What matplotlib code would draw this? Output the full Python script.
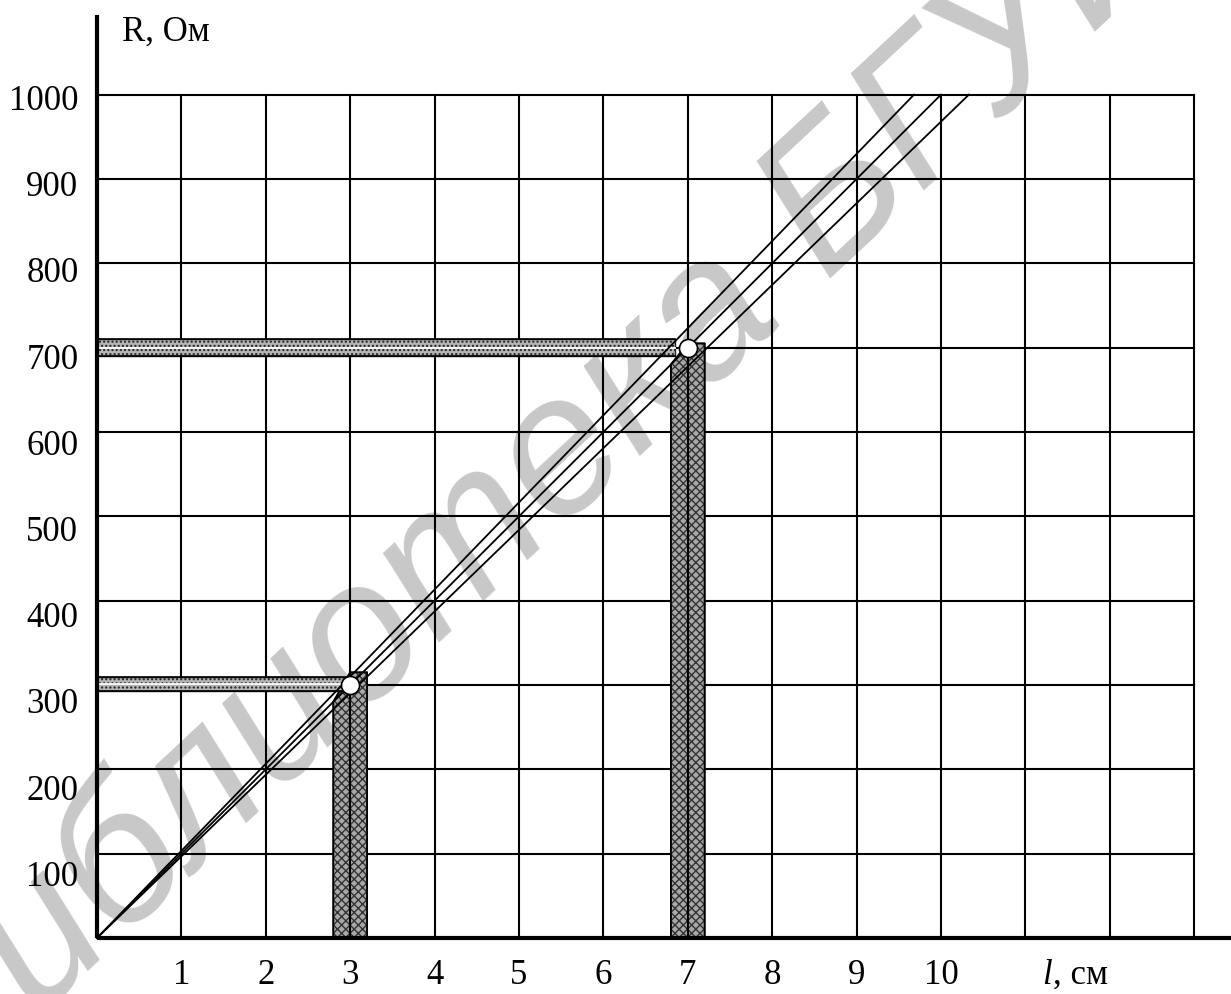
import matplotlib
matplotlib.use("Agg")
import matplotlib.pyplot as plt
import numpy as np

# ---- data ----
x_ticks = [1, 2, 3, 4, 5, 6, 7, 8, 9, 10]
y_ticks = [100, 200, 300, 400, 500, 600, 700, 800, 900, 1000]
grid_x = list(range(1, 14))
grid_y = list(range(100, 1001, 100))
line_slopes = [96.8, 100.0, 103.3]          # R = k * l, three lines
points_l = [3.0, 7.0]
points_R = [300.0, 700.0]
vband_l = [(2.8, 3.2), (6.8, 7.2)]
vband_top = [315, 705]
hband_R = [(293, 309), (690, 710)]
hband_end = [2.95, 6.85]

FS = 25
SERIF = ["Liberation Serif", "DejaVu Serif"]

fig = plt.figure(figsize=(12.31, 9.94), dpi=100)
ax = fig.add_axes([0, 0, 1, 1])
ax.set_xlim(-1.149, 13.436)
ax.set_ylim(-66.4, 1112.2)
ax.axis("off")

# watermark
ax.text(5.75, 590, "Библиотека БГУИР", rotation=43, fontsize=142, color="#c8c8c8",
        family=["Liberation Sans", "DejaVu Sans"], style="italic",
        ha="center", va="center", zorder=0, rotation_mode="anchor")

# grid
for gx in grid_x:
    ax.plot([gx, gx], [0, 1000], color="black", lw=1.5, zorder=2)
for gy in grid_y:
    ax.plot([0, 13], [gy, gy], color="black", lw=1.5, zorder=2)

# axes
ax.plot([0, 0], [0, 1095], color="black", lw=3, zorder=5, solid_capstyle="butt")
ax.plot([0, 13.44], [0, 0], color="black", lw=3, zorder=5, solid_capstyle="butt")

# vertical bands
for (a, b), top in zip(vband_l, vband_top):
    c = (a + b) / 2
    poly_x = [a, b, b, c, a]
    poly_y = [0, 0, top, top, c * line_slopes[1] - 20]
    ax.fill(poly_x, poly_y, facecolor="#a8a8a8", edgecolor="#333333", lw=1.2,
            hatch="xxxx", zorder=3)
    ax.plot([a, a, c, b, b], [0, c * line_slopes[1] - 20, top, top, 0],
            color="black", lw=1.3, zorder=3)
    ax.plot([c, c], [0, top], color="black", lw=1.5, zorder=3)

# horizontal bands
for (lo, hi), end in zip(hband_R, hband_end):
    ax.fill([0, end, end, 0], [lo, lo, hi, hi], facecolor="#b4b4b4",
            edgecolor="#222222", lw=1.0, hatch="....", zorder=3)
    ax.plot([0, end], [lo, lo], color="black", lw=1.2, zorder=3)
    ax.plot([0, end], [hi, hi], color="black", lw=1.2, zorder=3)
    ax.plot([0, end], [(lo + hi) / 2] * 2, color="white", lw=1.3, zorder=3)

# lines
for k in line_slopes:
    xe = 1000 / k
    ax.plot([0, xe], [0, 1000], color="black", lw=1.3, zorder=4)

# points
ax.plot(points_l, points_R, "o", ms=13, mfc="white", mec="black", mew=1.2, zorder=6)

# tick labels
for v in x_ticks:
    ax.text(v, -44, str(v), fontsize=FS, family=SERIF, ha="center", va="center")
for v in y_ticks:
    off = -8 - 20 * (1000 - v) / 900
    ax.text(-0.22, v + off, str(v), fontsize=FS, family=SERIF, ha="right", va="center")

ax.text(0.30, 1074, "R, Ом", fontsize=25, family=SERIF, ha="left", va="center")
ax.text(11.2, -44, "l", fontsize=FS, family=SERIF, style="italic", ha="left", va="center")
ax.text(11.33, -44, ", см", fontsize=FS, family=SERIF, ha="left", va="center")

fig.savefig("out.png", dpi=100)
